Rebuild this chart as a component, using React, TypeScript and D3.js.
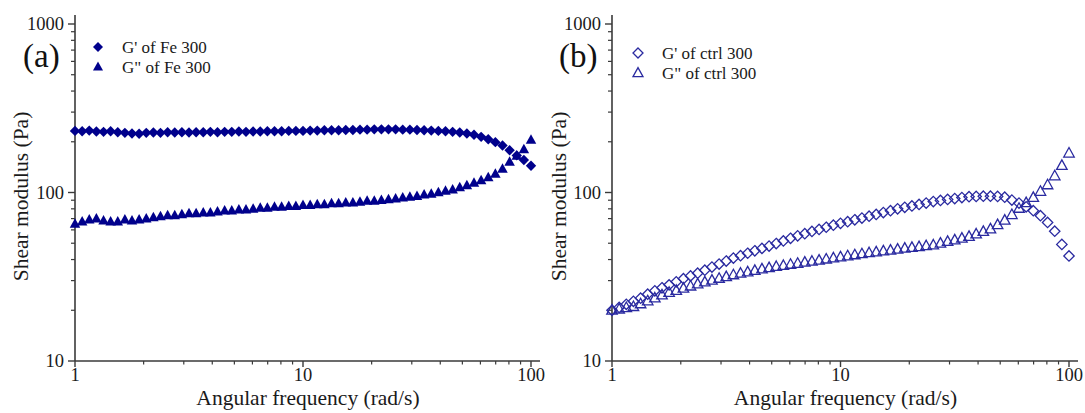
import React from "react";
import * as d3 from "d3";

// Angular frequency (rad/s), log sweep
const freq = [
  1.0, 1.075, 1.155, 1.241, 1.334, 1.433, 1.54, 1.655, 1.778, 1.911, 2.054, 2.207, 2.371, 2.548, 2.738, 2.943,
  3.162, 3.398, 3.652, 3.924, 4.217, 4.532, 4.87, 5.233, 5.623, 6.043, 6.494, 6.978, 7.499, 8.058, 8.66, 9.306,
  10.0, 10.75, 11.55, 12.41, 13.34, 14.33, 15.4, 16.55, 17.78, 19.11, 20.54, 22.07, 23.71, 25.48, 27.38, 29.43,
  31.62, 33.98, 36.52, 39.24, 42.17, 45.32, 48.7, 52.33, 56.23, 60.43, 64.94, 69.78, 74.99, 80.58, 86.6, 93.06, 100.0,
];

// (a) Fe 300
const feGp = [
  232, 231, 233, 230, 229, 231, 228, 226, 224, 223, 226, 227, 226, 228, 227, 228,
  227, 228, 228, 229, 228, 229, 229, 230, 229, 230, 230, 231, 231, 231, 232, 232,
  232, 233, 233, 234, 234, 234, 235, 235, 236, 236, 237, 237, 237, 237, 236, 236,
  235, 234, 233, 232, 231, 229, 227, 224, 220, 214, 207, 199, 190, 178, 166, 156, 144,
];
const feGpp = [
  65, 67, 69, 70, 68, 67, 67, 69, 68, 69, 70, 71, 72, 73, 73, 74,
  75, 75, 76, 76, 77, 78, 78, 79, 79, 80, 81, 81, 82, 82, 83, 83,
  84, 84, 85, 85, 86, 86, 87, 87, 88, 89, 89, 90, 91, 92, 93, 94,
  95, 97, 98, 100, 102, 104, 107, 110, 114, 118, 123, 129, 138, 152, 165, 180, 205,
];

// (b) ctrl 300
const ctrlGp = [
  20.0, 20.8, 21.7, 22.6, 23.6, 24.9, 26.1, 27.2, 28.3, 29.5, 30.8, 32.0, 33.2, 34.6, 36.1, 37.6,
  39.2, 40.8, 42.2, 43.6, 45.1, 46.6, 48.1, 49.8, 51.6, 53.5, 55.3, 57.0, 58.7, 60.4, 62.2, 64.0,
  65.6, 67.1, 68.9, 70.5, 72.3, 74.1, 76.0, 78.0, 80.0, 81.7, 83.2, 84.9, 86.5, 88.3, 89.7, 91.0,
  92.0, 93.3, 94.4, 94.8, 95.1, 95.1, 94.8, 93.8, 90.2, 86.5, 82.2, 78.0, 72.8, 66.4, 58.9, 49.2, 42.0,
];
const ctrlGpp = [
  20.0, 20.3, 20.7, 21.0, 21.8, 22.7, 23.6, 24.6, 25.5, 26.2, 27.0, 27.8, 28.6, 29.4, 30.1, 30.9,
  31.6, 32.4, 33.1, 33.7, 34.4, 35.1, 35.7, 36.3, 36.8, 37.4, 37.9, 38.5, 39.0, 39.6, 40.2, 40.8,
  41.4, 42.0, 42.6, 43.2, 43.8, 44.3, 44.9, 45.4, 46.0, 46.6, 47.1, 47.6, 48.2, 48.7, 49.9, 51.1,
  52.2, 53.5, 54.8, 56.6, 58.6, 60.7, 64.3, 68.4, 73.8, 80.4, 86.9, 93.3, 101.4, 110.9, 125.3, 144.5, 171.0,
];

const xTickValues = [1, 10, 100];
const xTickLabels = ["1", "10", "100"];
const yTickValues = [10, 100, 1000];
const yTickLabels = ["10", "100", "1000"];
const panelLetters = ["(a)", "(b)"];
const legendLabels = [
  ["G' of Fe 300", 'G" of Fe 300'],
  ["G' of ctrl 300", 'G" of ctrl 300'],
];
const xTitle = "Angular frequency (rad/s)";
const yTitle = "Shear modulus (Pa)";

const FONT = '"Liberation Serif","Times New Roman",serif';
const AXIS = "#3a3a3a";

function diamondPts(cx: number, cy: number, r: number) {
  return `${cx},${cy - r} ${cx + r},${cy} ${cx},${cy + r} ${cx - r},${cy}`;
}
function trianglePts(cx: number, cy: number, w: number, h: number) {
  return `${cx},${cy - h * 0.6} ${cx + w / 2},${cy + h * 0.4} ${cx - w / 2},${cy + h * 0.4}`;
}

function minorTicks(lo: number, hi: number) {
  const out: number[] = [];
  for (let d = lo; d < hi; d *= 10) {
    for (let k = 2; k <= 9; k++) out.push(d * k);
  }
  return out;
}

type PanelProps = {
  x0: number;
  x1: number;
  letter: string;
  letterX: number;
  titleX: number;
  legend: string[];
  legendX: number;
  legendY: number;
  gp: number[];
  gpp: number[];
  filled: boolean;
  color: string;
};

function Panel(p: PanelProps) {
  const x = d3.scaleLog().domain([1, 100]).range([p.x0, p.x1]);
  const y = d3.scaleLog().domain([10, 1000]).range([361, 24]);
  const yb = y(10);
  const fill = p.filled ? p.color : "none";
  const stroke = p.filled ? "none" : p.color;
  const sw = p.filled ? 0 : 1.3;
  const xMinor = minorTicks(1, 100);
  const yMinor = minorTicks(10, 1000);
  return (
    <g>
      {/* axes */}
      <line x1={p.x0} x2={p.x1 + 9} y1={yb} y2={yb} stroke={AXIS} strokeWidth={1.6} />
      <line x1={p.x0} x2={p.x0} y1={yb} y2={y(1000) - 9} stroke={AXIS} strokeWidth={1.6} />
      {xTickValues.map((v, i) => (
        <g key={"xt" + i}>
          <line x1={x(v)} x2={x(v)} y1={yb} y2={yb + 6} stroke={AXIS} strokeWidth={1.4} />
          <text x={x(v)} y={381} textAnchor="middle" fontFamily={FONT} fontSize={18.5} fill="#1a1a1a">
            {xTickLabels[i]}
          </text>
        </g>
      ))}
      {xMinor.map((v, i) => (
        <line key={"xm" + i} x1={x(v)} x2={x(v)} y1={yb} y2={yb + 3.5} stroke={AXIS} strokeWidth={1.2} />
      ))}
      {yTickValues.map((v, i) => (
        <g key={"yt" + i}>
          <line x1={p.x0 - 7} x2={p.x0} y1={y(v)} y2={y(v)} stroke={AXIS} strokeWidth={1.4} />
          <text x={p.x0 - 11} y={y(v) + 6} textAnchor="end" fontFamily={FONT} fontSize={18.5} fill="#1a1a1a">
            {yTickLabels[i]}
          </text>
        </g>
      ))}
      {yMinor.map((v, i) => (
        <line key={"ym" + i} x1={p.x0 - 4} x2={p.x0} y1={y(v)} y2={y(v)} stroke={AXIS} strokeWidth={1.2} />
      ))}
      {/* titles */}
      <text x={(p.x0 + p.x1) / 2 + 5} y={405} textAnchor="middle" fontFamily={FONT} fontSize={21.5} fill="#1a1a1a">
        {xTitle}
      </text>
      <text
        transform={`translate(${p.titleX},${y(100) + 4}) rotate(-90)`}
        textAnchor="middle"
        fontFamily={FONT}
        fontSize={21.5}
        fill="#1a1a1a"
      >
        {yTitle}
      </text>
      <text x={p.letterX} y={67} fontFamily={FONT} fontSize={33} fill="#111">
        {p.letter}
      </text>
      {/* legend */}
      <polygon points={diamondPts(p.legendX, p.legendY, 5)} fill={fill} stroke={stroke} strokeWidth={sw} />
      <text x={p.legendX + 24} y={p.legendY + 6} fontFamily={FONT} fontSize={17} fill="#1a1a1a">
        {p.legend[0]}
      </text>
      <polygon points={trianglePts(p.legendX, p.legendY + 20, 10, 9)} fill={fill} stroke={stroke} strokeWidth={sw} />
      <text x={p.legendX + 24} y={p.legendY + 26} fontFamily={FONT} fontSize={17} fill="#1a1a1a">
        {p.legend[1]}
      </text>
      {/* data */}
      {p.gp.map((v, i) => (
        <polygon key={"d" + i} points={diamondPts(x(freq[i]), y(v), 5.2)} fill={fill} stroke={stroke} strokeWidth={sw} />
      ))}
      {p.gpp.map((v, i) => (
        <polygon key={"t" + i} points={trianglePts(x(freq[i]), y(v), 10.5, 9.5)} fill={fill} stroke={stroke} strokeWidth={sw} />
      ))}
    </g>
  );
}

export default function App() {
  return (
    <svg width={1085} height={413} style={{ position: "absolute", left: 0, top: 0, background: "#fff" }}>
      <rect x={0} y={0} width={1085} height={413} fill="#fff" />
      <Panel
        x0={75}
        x1={531}
        letter={panelLetters[0]}
        letterX={23}
        titleX={28}
        legend={legendLabels[0]}
        legendX={98}
        legendY={47}
        gp={feGp}
        gpp={feGpp}
        filled={true}
        color="#00008c"
      />
      <Panel
        x0={612}
        x1={1069}
        letter={panelLetters[1]}
        letterX={559}
        titleX={566}
        legend={legendLabels[1]}
        legendX={638}
        legendY={53}
        gp={ctrlGp}
        gpp={ctrlGpp}
        filled={false}
        color="#2a2aa0"
      />
    </svg>
  );
}
